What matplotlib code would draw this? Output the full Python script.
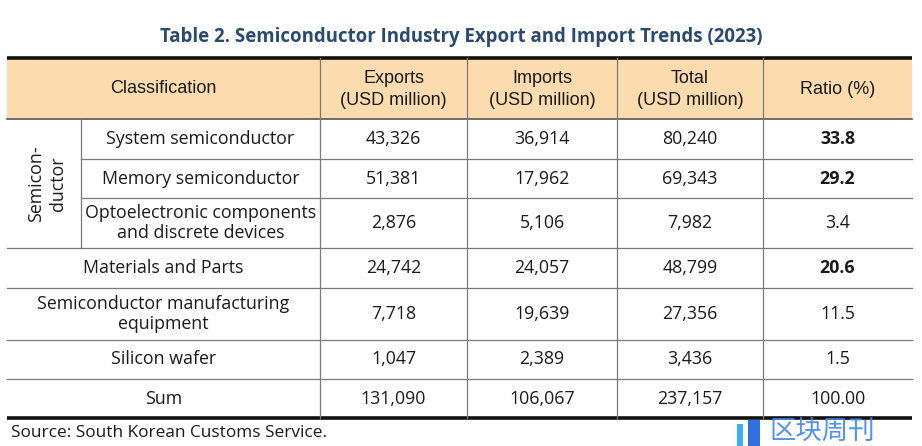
import matplotlib.pyplot as plt
from matplotlib.patches import Rectangle

# table data
title = "Table 2. Semiconductor Industry Export and Import Trends (2023)"
col_headers = ["Exports\n(USD million)", "Imports\n(USD million)",
               "Total\n(USD million)", "Ratio (%)"]
group_label = "Semicon-\nductor"
categories = ["System semiconductor", "Memory semiconductor",
              "Optoelectronic components\nand discrete devices",
              "Materials and Parts",
              "Semiconductor manufacturing\nequipment",
              "Silicon wafer", "Sum"]
exports = [43326, 51381, 2876, 24742, 7718, 1047, 131090]
imports = [36914, 17962, 5106, 24057, 19639, 2389, 106067]
totals = [80240, 69343, 7982, 48799, 27356, 3436, 237157]
ratios = ["33.8", "29.2", "3.4", "20.6", "11.5", "1.5", "100.00"]
source = "Source: South Korean Customs Service."

# layout (pixels)
W, H = 922, 446
x_left, x_sub, x_cls = 7, 81, 320
col_edges = [320, 467, 617, 763, 912]
y_top, y_head = 58, 119
row_edges = [119, 159, 198, 248, 288, 340, 379, 418]
n_group = 3
bold_rows = {0, 1, 3}

body_font = ["Open Sans", "DejaVu Sans"]
head_font = ["Liberation Sans", "DejaVu Sans"]
fs = 12.8

fig = plt.figure(figsize=(W / 100, H / 100), dpi=100)
ax = fig.add_axes([0, 0, 1, 1])
ax.set_xlim(0, W)
ax.set_ylim(H, 0)
ax.axis("off")

ax.text(W / 2, 37, title, ha="center", va="center", fontsize=13.4,
        fontweight="bold", color="#2b4a70", family=body_font)

# header band
ax.add_patch(Rectangle((x_left, y_top), col_edges[-1] - x_left, y_head - y_top,
                       facecolor="#fcdcae", edgecolor="none", zorder=0))
ax.text((x_left + x_cls) / 2, (y_top + y_head) / 2, "Classification",
        ha="center", va="center", fontsize=13, family=head_font, color="#1a1a1a")
for i, h in enumerate(col_headers):
    cx = (col_edges[i] + col_edges[i + 1]) / 2
    ax.text(cx, (y_top + y_head) / 2 + 1, h, ha="center", va="center",
            fontsize=13, family=head_font, color="#1a1a1a", linespacing=1.45)

# lines
grid = "#7a7a7a"
ax.plot([x_left, col_edges[-1]], [y_top, y_top], color="#111111", lw=2.6,
        solid_capstyle="butt")
ax.plot([x_left, col_edges[-1]], [row_edges[-1], row_edges[-1]], color="#111111",
        lw=2.6, solid_capstyle="butt")
ax.plot([x_left, col_edges[-1]], [y_head, y_head], color="#555555", lw=1.2)
for k, y in enumerate(row_edges[1:-1], start=1):
    x0 = x_sub if k < n_group else x_left
    ax.plot([x0, col_edges[-1]], [y, y], color=grid, lw=0.9)
for x in col_edges[:-1]:
    ax.plot([x, x], [y_top, row_edges[-1]], color=grid, lw=0.9)
ax.plot([x_sub, x_sub], [y_head, row_edges[n_group]], color=grid, lw=0.9)

# group label
ax.text(47, (row_edges[0] + row_edges[n_group]) / 2, group_label,
        ha="center", va="center", rotation=90, fontsize=fs, family=body_font,
        color="#1a1a1a", linespacing=1.25)

# body rows
for r, cat in enumerate(categories):
    cy = (row_edges[r] + row_edges[r + 1]) / 2
    cx = (x_sub + x_cls) / 2 if r < n_group else (x_left + x_cls) / 2
    ax.text(cx, cy, cat, ha="center", va="center", fontsize=fs,
            family=body_font, color="#1a1a1a", linespacing=1.2)
    vals = [f"{exports[r]:,}", f"{imports[r]:,}", f"{totals[r]:,}", ratios[r]]
    for i, v in enumerate(vals):
        ccx = (col_edges[i] + col_edges[i + 1]) / 2
        wt = "bold" if (i == 3 and r in bold_rows) else "normal"
        ax.text(ccx, cy, v, ha="center", va="center", fontsize=fs,
                family=body_font, color="#1a1a1a", fontweight=wt)

ax.text(11, 433, source, ha="left", va="center", fontsize=12.4,
        family=body_font, color="#1a1a1a")

# watermark
ax.add_patch(Rectangle((737, 424), 6, 22, facecolor="#35b0f0", edgecolor="none"))
ax.add_patch(Rectangle((748, 420), 12, 26, facecolor="#2f6fe0", edgecolor="none"))
ax.text(769, 432, "区块周刊", ha="left", va="center", fontsize=19,
        family=["Noto Sans CJK SC", "DejaVu Sans"], color="#3f86f0", alpha=0.9)

fig.savefig("out.png", dpi=100)
